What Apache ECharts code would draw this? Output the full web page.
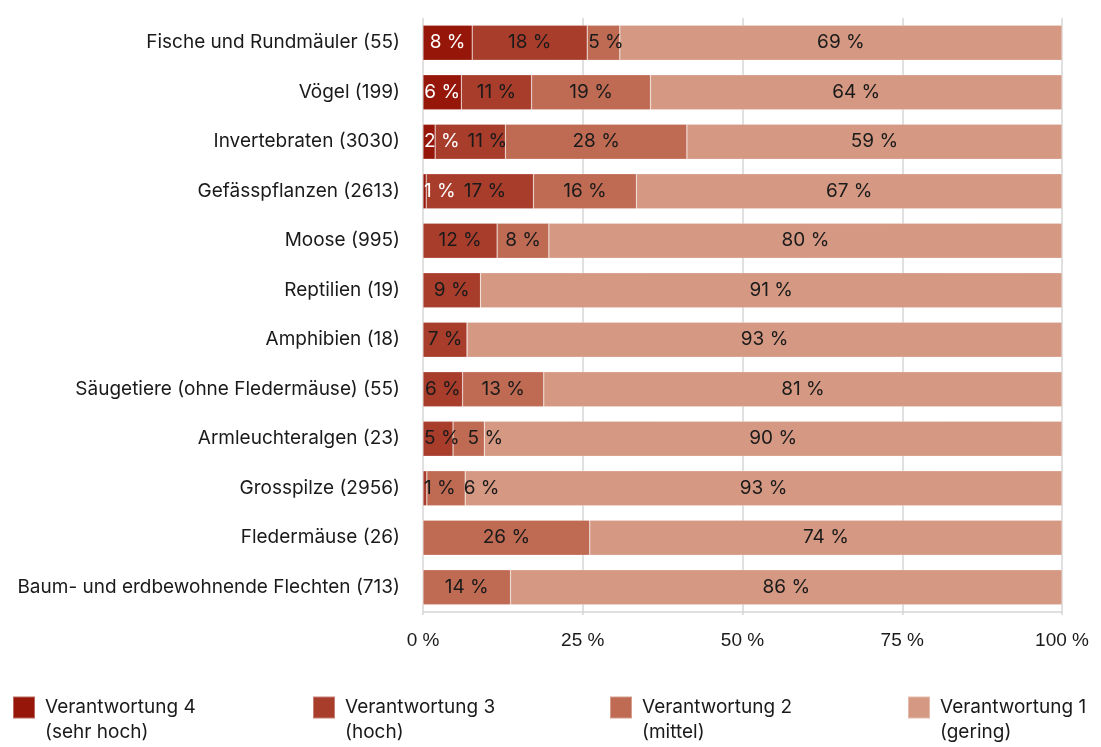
<!DOCTYPE html>
<html>
<head>
<meta charset="utf-8">
<script src="https://cdn.jsdelivr.net/npm/echarts@6/dist/echarts.min.js"></script>
<style>
  html, body { margin: 0; padding: 0; background: #fff; }
  #chart { width: 1101px; height: 747px; }
</style>
</head>
<body>
<div id="chart"></div>
<script>
var categories = [
  'Fische und Rundmäuler (55)',
  'Vögel (199)',
  'Invertebraten (3030)',
  'Gefässpflanzen (2613)',
  'Moose (995)',
  'Reptilien (19)',
  'Amphibien (18)',
  'Säugetiere (ohne Fledermäuse) (55)',
  'Armleuchteralgen (23)',
  'Grosspilze (2956)',
  'Fledermäuse (26)',
  'Baum- und erdbewohnende Flechten (713)'
];
// Anteile in %, gelesen aus der Grafik
var v4 = [7.7, 6.0, 1.9, 0.5, 0, 0, 0, 0, 0, 0, 0, 0];
var v3 = [18.0, 11.0, 11.0, 16.8, 11.6, 9.0, 6.9, 6.2, 4.7, 0.6, 0, 0];
var v2 = [5.1, 18.6, 28.4, 16.1, 8.1, 0, 0, 12.7, 4.9, 6.0, 26.1, 13.7];
var v1 = [69.2, 64.4, 58.7, 66.6, 80.3, 91.0, 93.1, 81.1, 90.4, 93.4, 73.9, 86.3];
var xTicks = [0, 25, 50, 75, 100];

var seriesNames = ['Verantwortung 4', 'Verantwortung 3', 'Verantwortung 2', 'Verantwortung 1'];
var seriesSub = ['(sehr hoch)', '(hoch)', '(mittel)', '(gering)'];
var colors = ['#961709', '#a83d2c', '#bf6a53', '#d59882'];
var values = [v4, v3, v2, v1];

var dom = document.getElementById('chart');
var myChart = echarts.init(dom);

var fontMain = 'Inter, "Noto Sans", sans-serif';
var textColor = '#1a1a1a';

// Beschriftungen in einer Zeile nicht überlappen lassen: nach rechts schieben
var labelEdges = {};
var lastSeries = -1;
function layoutLabel(p) {
  if (p.seriesIndex < lastSeries) labelEdges = {};
  lastSeries = p.seriesIndex;
  var r = p.labelRect;
  if (!r || r.width === 0) return;
  var x = r.x;
  if (p.rect && x < p.rect.x + 1) x = p.rect.x + 1;
  var prev = labelEdges[p.dataIndex];
  if (prev != null && x < prev + 8) x = prev + 8;
  labelEdges[p.dataIndex] = x + r.width;
  return { x: x, y: r.y + r.height / 2, align: 'left', verticalAlign: 'middle' };
}

var series = values.map(function (vals, i) {
  return {
    name: seriesNames[i],
    type: 'bar',
    stack: 'total',
    barWidth: 35,
    itemStyle: {
      color: colors[i],
      borderColor: 'rgba(255,255,255,0.35)',
      borderWidth: 0.6
    },
    label: {
      show: true,
      position: 'inside',
      color: i === 0 ? '#ffffff' : textColor,
      fontFamily: fontMain,
      fontSize: 19,
      formatter: function (p) {
        return Math.round(p.value) + ' %';
      }
    },
    labelLayout: layoutLabel,
    data: vals.map(function (v) {
      if (v === 0) {
        return { value: v, label: { show: false } };
      }
      // sehr schmale Segmente: Beschriftung links beginnen
      if (v < 3) {
        return { value: v, label: { position: 'insideLeft', distance: 1 } };
      }
      return v;
    })
  };
});

var legends = seriesNames.map(function (name, i) {
  var lefts = [12, 312, 609, 907];
  return {
    data: [name],
    left: lefts[i],
    top: 670,
    padding: 0,
    itemWidth: 22,
    itemHeight: 22,
    icon: 'rect',
    selectedMode: false,
    formatter: function (n) {
      return '\n' + n + '\n' + seriesSub[i];
    },
    textStyle: {
      fontFamily: fontMain,
      fontSize: 19,
      color: textColor,
      lineHeight: 25,
      padding: [0, 0, 0, 5]
    }
  };
});

option = {
  animation: false,
  color: colors,
  legend: legends,
  grid: {
    left: 423,
    right: 39,
    top: 18,
    bottom: 135
  },
  xAxis: {
    type: 'value',
    min: xTicks[0],
    max: xTicks[xTicks.length - 1],
    interval: 25,
    axisLine: { show: true, lineStyle: { color: '#d6d6d6', width: 1.5 } },
    axisTick: { show: true, length: 3, inside: false, lineStyle: { color: '#d6d6d6', width: 1.5 } },
    splitLine: { show: true, lineStyle: { color: '#d6d6d6', width: 1.5 } },
    axisLabel: {
      margin: 19,
      fontFamily: '"Liberation Sans", Arial, sans-serif',
      fontSize: 19,
      color: textColor,
      formatter: '{value} %'
    }
  },
  yAxis: {
    type: 'category',
    inverse: true,
    data: categories,
    axisLine: { show: false },
    axisTick: { show: false },
    axisLabel: {
      margin: 23,
      fontFamily: fontMain,
      fontSize: 19,
      color: textColor
    }
  },
  series: series
};

if (option && typeof option === 'object') {
  myChart.setOption(option, true);
}
</script>
</body>
</html>
